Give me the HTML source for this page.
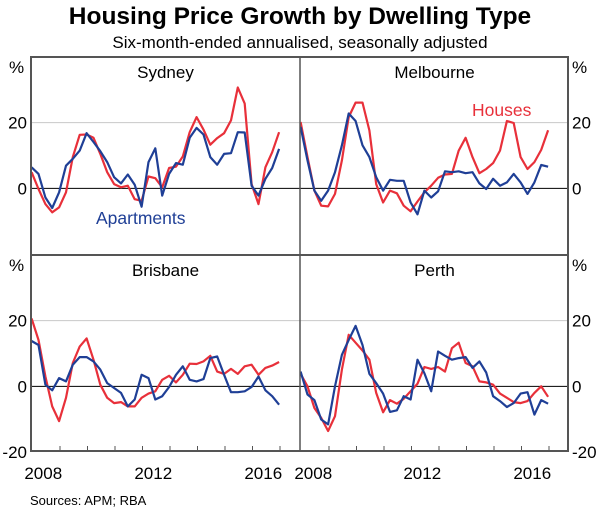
<!DOCTYPE html>
<html><head><meta charset="utf-8"><style>
html,body{margin:0;padding:0;background:#fff;}
svg{display:block;font-family:"Liberation Sans",Arial,sans-serif;}
</style></head><body>
<svg id="chart" width="600" height="512" viewBox="0 0 600 512" xmlns="http://www.w3.org/2000/svg">
<text x="300" y="24" text-anchor="middle" font-size="24.5" font-weight="bold" fill="#000">Housing Price Growth by Dwelling Type</text>
<text x="300" y="48" text-anchor="middle" font-size="17" fill="#000">Six-month-ended annualised, seasonally adjusted</text>
<g id="grid"></g>
<g id="marks"></g>
<g id="frame"></g>
<text x="96" y="224" font-size="17.5" fill="#1f3f96">Apartments</text>
<text x="472" y="116" font-size="17.5" fill="#e8303a">Houses</text>
<text x="30" y="505" font-size="13" fill="#000">Sources:   APM; RBA</text>
</svg>
<script>
const startYear = 2008;
const yTicks = [-20, 0, 20];
const yearLabels = ["2008", "2012", "2016"];
const panelNames = ["Sydney", "Melbourne", "Brisbane", "Perth"];
const sydneyHouses = [4.9,-0.2,-4.8,-7.3,-5.8,-1.2,9.5,16.3,16.4,15.4,10.5,4.9,1.3,0.3,0.8,-3.3,-3.8,3.6,3.1,0.3,6.2,6.6,9.7,17.1,21.7,17.9,13.3,15.3,16.8,20.7,30.7,25.8,1.3,-4.8,6.4,11,17.1];
const sydneyApartments = [6.4,4.4,-2.8,-6,-1.2,6.9,9,11.5,16.8,14.1,11.3,8,3.4,1.5,4.2,1.1,-5.6,8,12.2,-2.2,4.4,7.7,7.2,15.4,18.4,16.4,9.5,7.2,10.5,10.7,17.1,17,0.8,-2.2,2.9,6.2,12];
const melbourneHouses = [20.2,9.5,-0.7,-5.3,-5.5,-1.7,8.5,21.7,26.1,26.1,17.6,1.3,-4.3,-0.7,-1.5,-5.3,-7,-4,-1.2,0.8,3.2,4.2,4.4,11.5,15.4,9.5,4.6,5.9,7.7,11.5,20.5,19.9,9.5,5.9,8,11.7,17.7];
const melbourneApartments = [18.7,8.5,-0.7,-3.8,-0.7,4.9,13.1,22.8,20.5,13.1,9.5,3.4,-0.7,2.6,2.3,2.3,-4.3,-7.9,-0.7,-2.8,-0.9,5.2,4.9,5.2,4.6,4.9,1.5,-0.2,2.9,0.8,1.8,4.4,1.8,-1.7,1.8,7.1,6.6];
const brisbaneHouses = [20.7,14.1,3,-6.1,-10.6,-3.5,7.1,12.1,14.6,8.1,0.5,-3.5,-5.1,-4.8,-6.1,-6.1,-3.5,-2.2,-1.5,2,3.2,1.2,3.5,6.9,6.8,7.6,9.3,4.5,3.8,5.3,3.8,6.1,6.6,3.5,5.6,6.3,7.4];
const brisbaneApartments = [13.8,12.6,0.5,-1.2,2.5,1.5,6.6,8.9,8.9,7.6,5.1,1,-0.5,-2,-6.1,-4,3.5,2.5,-4,-3,-0.2,3.5,6.1,2,1.5,2.2,8.6,9.1,3.5,-1.8,-1.8,-1.5,-0.2,3,-1.2,-3,-5.6];
const perthHouses = [3.8,0,-6.6,-9.6,-13.6,-9.1,5.1,15.7,13.3,10.9,8.1,-2,-7.9,-4.2,-5.3,-3.8,-1.5,0.8,5.9,5.3,5.9,4.5,11.6,13.3,7.1,6.1,1.5,1.2,0.5,-2.2,-3.5,-4.8,-5.1,-4.5,-2,0,-3.2];
const perthApartments = [4.5,-2.5,-4.2,-10.1,-11.6,0,9.6,14.1,18.4,12.6,3.8,1,-2.2,-7.8,-7.3,-3,-4,8.1,4,-1.5,10.6,9.3,8.1,8.6,8.9,5.6,7.6,4.2,-3,-4.5,-6.3,-5.1,-2.2,-1.8,-8.6,-4.2,-5.3];

const NS = "http://www.w3.org/2000/svg";
const panels = [
  {name: panelNames[0], h: sydneyHouses, a: sydneyApartments, x0: 31, top: 57},
  {name: panelNames[1], h: melbourneHouses, a: melbourneApartments, x0: 300, top: 57},
  {name: panelNames[2], h: brisbaneHouses, a: brisbaneApartments, x0: 31, top: 255},
  {name: panelNames[3], h: perthHouses, a: perthApartments, x0: 300, top: 255}
];
const W = 269, H = 197, yMin = -20, yMax = 40, yearW = 27.5;
function yScale(p, v){ return p.top + (yMax - v) / (yMax - yMin) * H; }
function xQuarter(p, i){ return p.x0 + 0.6 + i * yearW / 4; }
function xYear(p, yr){ return p.x0 + 1.5 + (yr - startYear) * yearW; }
function mk(tag, attrs, parent){ const e = document.createElementNS(NS, tag); for (const k in attrs) e.setAttribute(k, attrs[k]); parent.appendChild(e); return e; }
const grid = document.getElementById('grid'), marks = document.getElementById('marks'), frame = document.getElementById('frame');

panels.forEach((p, pi) => {
  const slug = p.name.toLowerCase();
  // gridline 20
  const g20 = mk('line', {x1: p.x0, x2: p.x0 + W, y1: yScale(p, 20), y2: yScale(p, 20), stroke: '#c8c8c8', 'stroke-width': 1}, grid);
  
  
  const z = mk('line', {x1: p.x0, x2: p.x0 + W, y1: yScale(p, 0), y2: yScale(p, 0), stroke: '#000', 'stroke-width': 1}, grid);
  
  
  // series
  [[p.h, '#e8303a', 'houses'], [p.a, '#1f3f96', 'apartments']].forEach(([arr, col, nm]) => {
    const d = arr.map((v, i) => (i ? 'L' : 'M') + xQuarter(p, i).toFixed(1) + ' ' + yScale(p, v).toFixed(1)).join(' ');
    const path = mk('path', {d: d, fill: 'none', stroke: col, 'stroke-width': 2.2, 'stroke-linejoin': 'round'}, marks);
    
    
  });
  // title
  const t = mk('text', {x: p.x0 + W / 2, y: p.top + 21, 'text-anchor': 'middle', 'font-size': 17, fill: '#000'}, frame);
  t.textContent = p.name;
  
  
  // ticks on bottom panels
  if (pi >= 2) {
    for (let yr = startYear + 1; yr <= startYear + 9; yr++) {
      const tk = mk('line', {x1: xYear(p, yr), x2: xYear(p, yr), y1: p.top + H, y2: p.top + H - 6, stroke: '#555', 'stroke-width': 1}, frame);
      
      
    }
    yearLabels.forEach((lab, li) => {
      const yr = +lab;
      let cx = xYear(p, yr) + yearW / 2 - 3;
      if (pi === 3 && li === 0) cx += 1;
      const tl = mk('text', {x: cx, y: 479, 'text-anchor': 'middle', 'font-size': 17, fill: '#000'}, frame);
      tl.textContent = lab;
      
      
    });
  }
});
// y labels
[[57, true], [255, false]].forEach(([top, isTop]) => {
  const p = {top: top};
  ['left', 'right'].forEach(side => {
    const x = side === 'left' ? 27 : 572;
    const anchor = side === 'left' ? 'end' : 'start';
    const pc = mk('text', {x: side === 'left' ? 9 : 572, y: top + 16, 'font-size': 17, fill: '#000'}, frame);
    pc.textContent = '%';
    
    
    yTicks.forEach(v => {
      if (v === -20 && isTop) return;
      const tl = mk('text', {x: x, y: yScale(p, v) + 6, 'text-anchor': anchor, 'font-size': 17, fill: '#000'}, frame);
      tl.textContent = v === -20 ? '-20' : String(v);
      
      
    });
  });
});
// frame
const fr = mk('rect', {x: 31, y: 57, width: 537, height: 394, fill: 'none', stroke: '#555', 'stroke-width': 2}, frame);


const vd = mk('line', {x1: 300, x2: 300, y1: 57, y2: 451, stroke: '#555', 'stroke-width': 1.5}, frame);


const hd = mk('line', {x1: 31, x2: 568, y1: 255, y2: 255, stroke: '#555', 'stroke-width': 2}, frame);


</script>
</body></html>
